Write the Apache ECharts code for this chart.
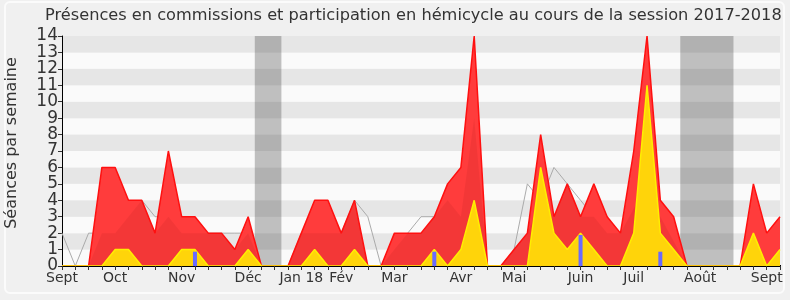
<!DOCTYPE html>
<html><head><meta charset="utf-8">
<script src="https://cdn.jsdelivr.net/npm/echarts@6/dist/echarts.min.js"></script>
<style>html,body{margin:0;padding:0;background:#f0f0f0;} #c{width:790px;height:300px;}</style>
</head><body><div id="c"></div>
<script>
const chartTitle = 'Présences en commissions et participation en hémicycle au cours de la session 2017-2018';
const yAxisName = 'Séances par semaine';
const monthLabels = ['Sept','Oct','Nov','Déc','Jan 18','Fév','Mar','Avr','Mai','Juin','Juil','Août','Sept'];
const monthWeeks = [0,4,9,14,18,21,25,30,34,39,43,48,53];
const yTicks = [0,1,2,3,4,5,6,7,8,9,10,11,12,13,14];
// weekly values, week 0 .. 54
const presences = [0,0,0,6,6,4,4,2,7,3,3,2,2,1,3,0,0,0,2,4,4,2,4,0,0,2,2,2,3,5,6,14,0,0,1,2,8,3,5,3,5,3,2,7,14,4,3,0,0,0,0,0,5,2,3];
const median = [2,0,2,2,2,3,4,3,3,2,2,2,2,2,2,0,0,0,2,2,2,2,4,3,0,1,2,3,3,4,3,9,0,0,1,5,4,6,5,4,3,2,2,3.5,5,3,1.5,0,0,0,0,null,null,null,null];
const presencesUnderMedian = [0,0,0,2,2,3,4,2,3,2,2,2,2,1,2,0,0,0,2,2,2,2,4,0,0,1,2,2,3,4,3,9,0,0,1,2,4,3,5,3,3,2,2,3.5,5,3,1.5,0,0,0,0,0,0,0,0];
const interventions = [0,0,0,0,1,1,0,0,0,1,1,0,0,0,1,0,0,0,0,1,0,0,1,0,0,0,0,0,1,0,1,4,0,0,0,0,6,2,1,2,1,0,0,2,11,2,1,0,0,0,0,0,2,0,1];
const questionWeeks = [10,28,39,45];
const questionValues = [0.87,0.87,1.89,0.87];
const holidayStart = [14.5,46.5];
const holidayEnd = [16.5,50.5];

const pairs = arr => arr.map((v,i)=>[i,v]);
const labelMap = {};
monthWeeks.forEach((w,k)=>{labelMap[w]=monthLabels[k];});
const FONT = 'DejaVu Sans';
const yMin = yTicks[0], yMax = yTicks[yTicks.length-1];
const yLabelStyle = {fontFamily:FONT,fontSize:17,color:'#333',margin:4,showMinLabel:true,showMaxLabel:true,hideOverlap:false};

const chart = echarts.init(document.getElementById('c'), null, {renderer:'canvas'});
chart.setOption({
  animation:false,
  backgroundColor:'#f0f0f0',
  title:{text:chartTitle,left:45,top:8,padding:0,textStyle:{fontFamily:FONT,fontSize:16.2,fontWeight:'normal',color:'#333'}},
  grid:{left:62,right:10,top:36,bottom:34},
  graphic:[
    {type:'rect',silent:true,z:-10,shape:{x:5,y:2,width:779,height:291,r:5},style:{fill:'none',stroke:'#fbfbfb',lineWidth:2}},
    {type:'text',silent:true,x:12,y:143,rotation:Math.PI/2,style:{text:yAxisName,fontFamily:FONT,fontSize:16,fill:'#333',textAlign:'center',textVerticalAlign:'middle'}}
  ],
  xAxis:[
    {type:'value',min:0,max:54,interval:1,z:10,
     axisLine:{show:true,lineStyle:{color:'#000',width:1}},
     axisTick:{show:true,length:4,lineStyle:{color:'#333'}},
     axisLabel:{formatter:v=>labelMap[v]||'',fontFamily:FONT,fontSize:14,color:'#333',margin:5,showMinLabel:true,showMaxLabel:true},
     splitLine:{show:false}},
    {type:'value',position:'top',min:0,max:54,interval:1,
     axisLine:{show:false},axisTick:{show:true,length:1,lineStyle:{color:'#000'}},
     axisLabel:{show:false},splitLine:{show:false}}
  ],
  yAxis:[
    {type:'value',min:yMin,max:yMax,interval:1,position:'left',offset:0,
     axisLine:{show:true,lineStyle:{color:'#000'}},
     axisTick:{show:true,length:4,lineStyle:{color:'#333'}},
     axisLabel:Object.assign({formatter:v=>(v%2===0?String(v):'')},yLabelStyle),
     splitLine:{show:false},
     splitArea:{show:true,areaStyle:{color:['#fafafa','#e6e6e6']}}},
    {type:'value',min:yMin,max:yMax,interval:1,position:'left',offset:0,
     axisLine:{show:false},axisTick:{show:false},
     axisLabel:Object.assign({formatter:v=>(v%2===1?String(v):'')},yLabelStyle),
     splitLine:{show:false},splitArea:{show:false}}
  ],
  series:[
    {type:'line',data:pairs(median),symbol:'none',connectNulls:false,
     lineStyle:{color:'#aaaaaa',width:1},z:2,
     markArea:{silent:true,itemStyle:{color:'rgba(57,57,57,0.3)'},
       data:holidayStart.map((s,k)=>[{xAxis:s},{xAxis:holidayEnd[k]}])}},
    {type:'line',data:pairs(presences),symbol:'none',z:3,
     lineStyle:{color:'#ff1010',width:1.5},areaStyle:{color:'#ff3c3c',opacity:1}},
    {type:'line',data:pairs(presencesUnderMedian),symbol:'none',z:3,
     lineStyle:{width:0,opacity:0},areaStyle:{color:'rgba(90,0,0,0.1)'}},
    {type:'line',data:pairs(interventions),symbol:'none',z:4,
     lineStyle:{color:'#ffee00',width:1.5},areaStyle:{color:'#ffd40a',opacity:1}},
    {type:'bar',data:questionWeeks.map((w,k)=>[w,questionValues[k]]),barWidth:4,z:5,
     itemStyle:{color:'#6a6aff'}}
  ]
});
</script></body></html>
